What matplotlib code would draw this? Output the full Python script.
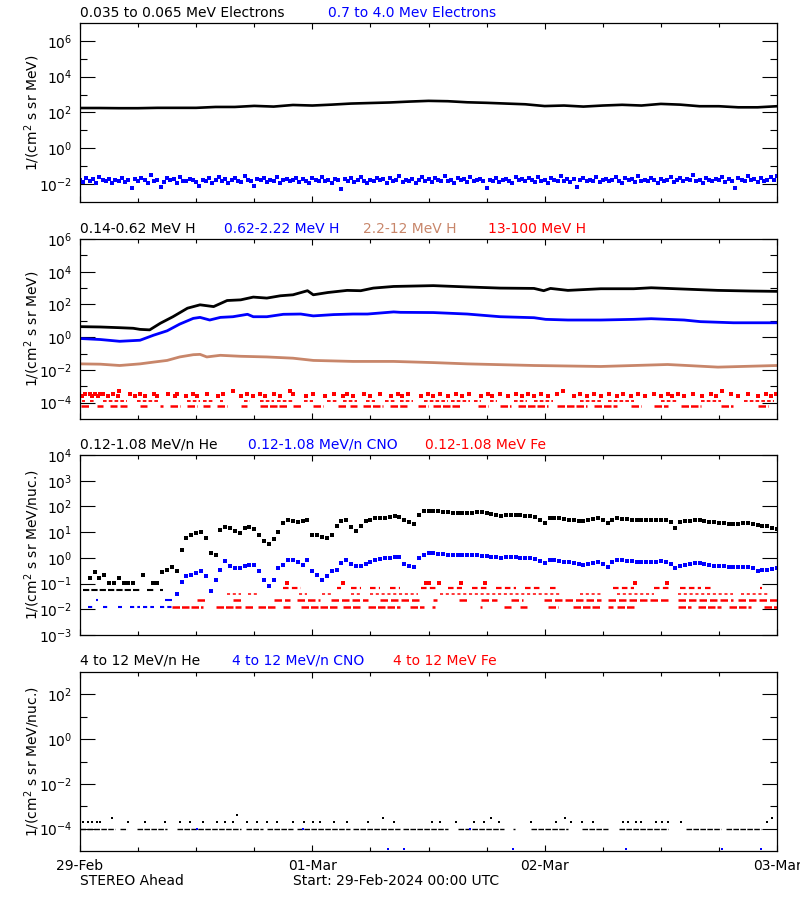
import numpy as np
import matplotlib
matplotlib.use("Agg")
import matplotlib.pyplot as plt
from matplotlib.ticker import FixedLocator, FixedFormatter, NullFormatter

plt.rcParams['font.family'] = ['DejaVu Sans']
plt.rcParams['mathtext.fontset'] = 'dejavusans'

BLACK = '#000000'
BLUE = '#0000ff'
RED = '#ff0000'
BROWN = '#c8866a'

# ---------------- x axis (hours since 29-Feb-2024 00:00 UTC) ----------------
day_hours = [0, 24, 48, 72]
day_labels = ['29-Feb', '01-Mar', '02-Mar', '03-Mar']
six_hour_ticks = [6, 12, 18, 30, 36, 42, 54, 60, 66]

# ---------------- panel 1 : electrons ----------------
elec_lo_hours = list(range(0, 73, 2))
elec_lo_flux = [178, 178, 174, 174, 182, 182, 182, 204, 204, 234, 214, 263, 245,
                275, 316, 339, 363, 407, 447, 427, 372, 347, 316, 288, 229, 245,
                214, 245, 269, 245, 302, 275, 224, 224, 195, 195, 224]
# 20-minute samples, in units of 1e-2
elec_hi_flux_e2 = [
    1.6, 1.3, 2.1, 1.5, 1.9, 1.2, 2.4, 1.7, 1.4, 2.0, 1.1, 1.8, 1.5, 2.2, 1.3, 1.6, 0.6, 1.9,
    1.4, 2.3, 1.7, 1.2, 3.4, 1.5, 1.8, 0.7, 1.3, 2.1, 1.6, 1.9, 1.2, 2.6, 1.5, 1.4, 2.0, 1.7,
    1.3, 0.8, 1.8, 1.5, 2.2, 1.2, 1.7, 2.5, 1.4, 1.9, 1.1, 1.6, 2.1, 1.5, 1.3, 2.8, 1.7, 1.4,
    0.8, 1.9, 1.6, 2.2, 1.3, 1.8, 1.5, 2.4, 1.2, 1.7, 2.0, 1.4, 1.6, 2.3, 1.3, 1.9, 1.5, 1.1,
    2.1, 1.7, 1.4, 2.6, 1.5, 1.8, 1.2, 2.0, 1.6, 0.5, 1.9, 1.4, 2.2, 1.3, 1.7, 2.5, 1.5, 1.2,
    1.8, 1.4, 2.3, 1.6, 1.9, 1.1, 2.1, 1.5, 1.7, 2.7, 1.3, 1.8, 1.5, 2.0, 1.2, 1.6, 2.4, 1.4,
    1.9, 1.3, 2.2, 1.7, 1.5, 2.9, 1.4, 1.8, 1.2, 2.1, 1.6, 1.9, 1.3, 2.5, 1.5, 1.7, 2.0, 1.4,
    0.6, 1.8, 1.5, 2.3, 1.3, 1.7, 2.0, 1.5, 1.2, 2.6, 1.6, 1.9, 1.4, 2.2, 1.7, 1.3, 2.4, 1.5,
    1.8, 1.2, 2.1, 1.6, 1.4, 2.8, 1.5, 1.9, 1.3, 2.0, 0.7, 1.7, 2.3, 1.4, 1.8, 1.5, 2.5, 1.3,
    1.7, 2.0, 1.4, 1.8, 2.4, 1.5, 1.2, 2.1, 1.6, 1.9, 1.3, 2.7, 1.5, 1.8, 1.4, 2.2, 1.6, 1.1,
    2.0, 1.5, 1.8, 2.6, 1.3, 1.7, 2.2, 1.4, 1.9, 1.6, 3.2, 1.5, 1.8, 1.2, 2.3, 1.7, 1.4, 2.0,
    1.6, 2.5, 1.3, 1.9, 1.5, 0.6, 2.1, 1.7, 1.4, 2.8, 1.6, 1.9, 1.3, 2.2, 1.5, 1.8, 2.4, 1.6,
    2.9]

# ---------------- panel 2 : protons ----------------
h_lo_hours = [0, 2.1, 4.1, 5.5, 6.2, 7.2, 8.3, 9.6, 11.1, 12.4, 13.8, 15.2, 16.6, 17.9,
              19.3, 20.7, 22, 23.5, 24.1, 25.6, 27.6, 29, 30.3, 32.4, 36.5, 40, 43.4,
              46.9, 47.9, 48.6, 50.4, 53.8, 57.2, 59, 62.4, 65.9, 69.3, 72]
h_lo_flux = [4.4, 4.2, 3.8, 3.5, 3.0, 2.8, 7.1, 17.8, 59, 95, 74, 174, 191, 282,
             245, 339, 389, 692, 389, 537, 724, 692, 1000, 1259, 1413, 1175, 1000,
             955, 692, 955, 724, 912, 912, 1047, 871, 724, 661, 631]
h_mid_hours = [0, 2.1, 4.1, 6.2, 7.6, 9, 10.3, 11.7, 12.4, 13.4, 14.5, 15.8, 17.3, 17.9,
               19.3, 21, 22.8, 24.1, 26.2, 28.2, 29.7, 32.4, 33.1, 36.5, 40, 43.4, 46.9,
               48.1, 50.4, 53.8, 57.2, 59, 62.4, 64.1, 67.5, 72]
h_mid_flux = [0.83, 0.72, 0.56, 0.65, 1.32, 2.45, 6.3, 14.1, 16.2, 11.2, 16.2, 17.8, 25,
              17.8, 17.8, 25, 26, 20, 24, 26, 26, 35, 33, 32, 26, 17.8, 15.5, 12.3, 11.2,
              11.2, 12.3, 13.5, 11.2, 8.9, 7.6, 7.6]
h_hi_hours = [0, 2.1, 4.1, 6.2, 7.6, 9, 10.3, 11.7, 12.4, 13.1, 14.5, 16.6, 19.3, 22,
              24.1, 28.2, 32.4, 36.5, 40, 46.9, 53.8, 60.7, 62.4, 65.9, 72]
h_hi_flux = [0.0234, 0.0224, 0.0186, 0.0234, 0.030, 0.038, 0.062, 0.085, 0.089, 0.062,
             0.078, 0.068, 0.062, 0.052, 0.038, 0.033, 0.033, 0.028, 0.0234, 0.0186,
             0.0162, 0.0214, 0.019, 0.0148, 0.0186]
# 13-100 MeV H : quantised count levels
hvh_levels = [6.5e-5, 1.2e-4, 2.5e-4, 3.5e-4, 5e-4]
hvh_runs_l1 = [(0.1, 1.0), (1.8, 2.4), (3.1, 3.8), (4.1, 4.9), (6.2, 6.9), (8.3, 8.6),
               (9.3, 10.3), (11.1, 12.1), (12.7, 13.4), (14.2, 15.2), (16.6, 17.3),
               (18.6, 21.4), (22, 22.8), (24.1, 25.1), (26.6, 27.6), (27.9, 28.6),
               (29.2, 31.3), (32, 33.1), (33.1, 33.8), (34.9, 35.9), (36.5, 39.3),
               (41.1, 42.1), (43.4, 44.5), (45.2, 48.3), (49.3, 52.4), (53.1, 55.5),
               (56.9, 57.9), (59.3, 60.7), (62.1, 64.1), (66.2, 67.5), (70, 71.1)]
hvh_runs_l2 = [(0.2, 0.5), (1, 1.4), (2.4, 4.9), (5.9, 8.3), (11.1, 12.4), (12.7, 13.8),
               (14.5, 14.8), (16.9, 17.6), (18.6, 20), (20.4, 22), (23.1, 24.1),
               (25.5, 26.6), (27.2, 28.6), (29.5, 30.5), (31.5, 32.5), (33.1, 34.4),
               (35.5, 38), (38.3, 40.3), (40.7, 41.4), (42.4, 43.1), (44.8, 46.2),
               (46.9, 48.9), (51.7, 53.8), (54.5, 57.2), (60, 61.8), (64.1, 66.2),
               (68.6, 71.7)]
hvh_dots_l3 = [0.2, 1.2, 1.9, 2.9, 3.9, 5.7, 6.7, 8, 9.8, 10.9, 12.1, 14.3, 16.6, 17.9,
               19.1, 20.7, 23.3, 25.3, 27.2, 28.2, 30, 32.1, 33.3, 35.2, 36.5, 38, 39.5,
               41.4, 42.6, 44.2, 45.7, 46.9, 48.3, 51, 52.4, 53.8, 55.5, 56.9, 58.4, 60,
               61.2, 62.4, 64.3, 65.7, 68, 70, 71.4]
hvh_dots_l4 = [0.5, 1, 1.6, 2.1, 2.4, 3.4, 5.2, 6.2, 7.6, 9.1, 10, 11.7, 13.1, 14.8, 17.3,
               18.6, 20, 22, 24.1, 26.2, 27.6, 29.3, 31, 32.9, 33.9, 35.9, 37.2, 38.8,
               40.2, 42.1, 43.4, 45, 46.3, 47.6, 49.3, 51.7, 53.1, 54.6, 56.1, 57.6, 59.3,
               60.7, 61.8, 63.3, 65.2, 67.2, 69, 70.9, 71.9]
hvh_dots_l5 = [4, 15.8, 21.7, 49.9, 66.3]

# ---------------- panel 3 : 0.12-1.08 MeV/n heavy ions (30-minute samples) ----------------
he_flux = [
    np.nan, np.nan, 0.17, 0.27, 0.17, 0.22, 0.11, 0.11, 0.17, 0.11, 0.11, 0.11, np.nan, 0.22,
    np.nan, 0.11, 0.11, 0.27, 0.35, 0.45, 0.3, 2.0, 6, 8, 9, 10, 6, 1.6, 1.3, 12, 16, 14, 11,
    9.4, 14, 16, 13, 8, 4.5, 3.6, 5.2, 10, 22, 31, 27, 25, 28, 31, 8, 7.5, 6.5, 6, 8, 18, 27,
    31, 16, 11, 18, 26, 30, 35, 36, 37, 38, 42, 38, 30, 24, 20, 45, 65, 68, 69, 65, 62, 60,
    58, 57, 56, 56, 58, 60, 60, 55, 50, 45, 44, 46, 48, 48, 46, 44, 42, 40, 30, 23, 34, 36,
    34, 32, 31, 29, 28, 27, 30, 33, 36, 30, 22, 30, 36, 33, 32, 31, 30, 31, 30, 30, 31, 31,
    30, 25, 14.7, 24, 27, 28, 29, 30, 28, 25, 24, 23, 22, 21, 20, 21, 22, 23, 21, 19, 18, 17,
    15, 13.5]
he_base_level = 0.055
he_base_runs = [(0.3, 5.4), (5.5, 6.2), (6.9, 7.6), (8.3, 8.6)]
cno_flux = [
    np.nan, np.nan, np.nan, np.nan, np.nan, np.nan, np.nan, np.nan, np.nan, np.nan, np.nan,
    np.nan, np.nan, np.nan, np.nan, np.nan, np.nan, np.nan, np.nan, np.nan, 0.04, 0.12, 0.2,
    0.22, 0.26, 0.30, 0.19, 0.05, 0.14, 0.35, 0.74, 0.5, 0.41, 0.41, 0.5, 0.55, 0.55, 0.3,
    0.14, 0.078, 0.14, 0.4, 0.55, 0.86, 0.86, 0.7, 0.55, 0.86, 0.3, 0.22, 0.14, 0.19, 0.3,
    0.35, 0.64, 0.86, 0.6, 0.5, 0.48, 0.6, 0.7, 0.86, 0.9, 0.95, 1.0, 1.1, 1.1, 0.6, 0.5,
    0.45, 1.0, 1.35, 1.5, 1.56, 1.45, 1.4, 1.35, 1.35, 1.3, 1.35, 1.35, 1.3, 1.25, 1.2, 1.15,
    1.1, 1.05, 1.0, 1.05, 1.1, 1.1, 1.0, 0.95, 0.95, 0.9, 0.75, 0.64, 0.8, 0.8, 0.75, 0.7,
    0.7, 0.62, 0.58, 0.55, 0.6, 0.65, 0.7, 0.6, 0.45, 0.7, 0.86, 0.8, 0.74, 0.74, 0.72, 0.7,
    0.7, 0.7, 0.72, 0.74, 0.7, 0.6, 0.41, 0.5, 0.55, 0.58, 0.62, 0.64, 0.6, 0.55, 0.5, 0.5,
    0.48, 0.46, 0.45, 0.45, 0.46, 0.45, 0.4, 0.30, 0.33, 0.35, 0.38, 0.41]
cno_base_levels = [0.012, 0.024]
cno_base_runs_a = [(0.8, 1.6), (2.4, 3.1), (3.9, 4.3), (5.2, 6.2), (6.5, 7.6), (8.3, 9.6)]
cno_base_runs_b = [(1.7, 1.9), (8.8, 9.5)]
fe_levels = [0.012, 0.024, 0.04, 0.065, 0.11]
fe_runs_a = [(9.5, 12.7), (14, 16.6), (17, 17.9), (18.4, 20.4), (21, 21.7), (22.8, 26.6),
             (27.2, 29), (29.7, 33.1), (34.1, 35.5), (36.4, 36.7), (41.3, 41.5), (43.8, 44.5),
             (45.5, 46.2), (48.3, 49.4), (50.9, 53.8), (54.5, 55.1), (55.5, 57.2),
             (61.8, 63.1), (63.8, 66.2), (67, 69.3), (70.7, 72)]
fe_runs_b = [(12.1, 13.1), (15.8, 16.6), (20, 21.7), (22.4, 24.8), (25.9, 29.7), (31, 35.2),
             (36.5, 36.9), (39.1, 40), (41.4, 43.1), (44.5, 45.8), (47.9, 53.8), (54.5, 60.7),
             (61.8, 67.5), (68, 72)]
fe_runs_c = [(15.2, 16.6), (17.4, 18.5), (22.6, 23.5), (25, 26), (28, 29), (30, 34.9),
             (37.2, 49.7), (51.7, 53.8), (55.5, 59.3), (61.8, 67.5), (68.3, 71.1)]
fe_runs_d = [(21, 22.8), (26.5, 27), (28, 29), (30, 31), (32, 33.1), (35.2, 37), (38, 39.5),
             (40.5, 42), (43, 45), (46, 47.5), (48.5, 49.3), (55.1, 57.2), (59.3, 61),
             (62, 64.1), (64.6, 65.3), (70.2, 70.4)]
fe_dots_e = [21.4, 27.2, 35.7, 36.1, 37.1, 39.4, 41.8, 57.3, 60.6]

# ---------------- panel 4 : 4-12 MeV/n heavy ions ----------------
he4_base_level = 1e-4
he4_base_runs = [(0, 3.6), (4.1, 4.9), (5.9, 9), (10, 16.6), (17.1, 18.9), (19.3, 22),
                 (22.4, 27.9), (28.2, 33.1), (33.4, 38), (39, 43.8), (44.7, 44.9),
                 (46.6, 50.4), (51.9, 54.5), (55.7, 60.7), (62.6, 66.2), (66.7, 70.3)]
he4_dot_hours_2e4 = [0.3, 0.8, 1.2, 1.8, 2.1, 5, 6.7, 8.8, 10.3, 11.4, 12.7, 14.2, 15, 15.8,
                     17.3, 18.3, 19.3, 20.4, 22, 23.1, 24.1, 24.8, 26.2, 27.6, 29.7, 32.4,
                     36.4, 37.2, 38.8, 40.7, 41.7, 43.3, 46.6, 49.2, 50.7, 51.9, 53, 56.1,
                     56.6, 57.4, 58, 59.5, 60.1, 60.7, 62.1, 71]
he4_dot_hours_3e4 = [3.3, 31.3, 42.5, 50.1, 71.5]
he4_dot_hours_4e4 = [16.2]
cno4_hours = [12.1, 23, 40.3, 31.8, 33.5, 44.7, 56.4, 66.3, 70.3]
cno4_flux = [1e-4, 1e-4, 1e-4, 1.2e-5, 1.2e-5, 1.2e-5, 1.2e-5, 1.2e-5, 1.2e-5]

# ---------------- layout ----------------
W, H = 800, 900
fig = plt.figure(figsize=(8, 9), dpi=100)

def fx(x):
    return x / W

def fy(y):
    return 1 - y / H

def make_axes(top, bottom):
    return fig.add_axes([fx(80), fy(bottom), (777 - 80) / W, (bottom - top) / H])

def style(ax, ylim, majors, minors, xlabels=False):
    ax.set_xlim(0, 72)
    ax.set_yscale('log')
    ax.set_ylim(*ylim)
    ax.yaxis.set_major_locator(FixedLocator(majors))
    ax.yaxis.set_major_formatter(FixedFormatter(
        [r'$10^{%d}$' % int(round(np.log10(m))) for m in majors]))
    ax.yaxis.set_minor_locator(FixedLocator(minors))
    ax.yaxis.set_minor_formatter(NullFormatter())
    ax.xaxis.set_major_locator(FixedLocator(day_hours))
    ax.xaxis.set_minor_locator(FixedLocator(six_hour_ticks))
    if xlabels:
        ax.xaxis.set_major_formatter(FixedFormatter(day_labels))
    else:
        ax.xaxis.set_major_formatter(NullFormatter())
    ax.tick_params(which='both', direction='in', top=True, right=True, width=0.8,
                   labelsize=10, colors='black')
    ax.tick_params(axis='y', which='major', length=10.5, pad=5.5)
    ax.tick_params(axis='y', which='minor', length=5.2)
    ax.tick_params(axis='x', which='major', length=4.5, pad=6)
    ax.tick_params(axis='x', which='minor', length=3.0)
    for s in ax.spines.values():
        s.set_linewidth(0.9)
        s.set_color('black')

def runs(ax, rr, y, color, lw, ls='-'):
    ax.hlines([y] * len(rr), [r[0] for r in rr], [r[1] for r in rr], colors=color,
              linewidth=lw, linestyles=ls)

def dots(ax, x, y, color, ms=2.0):
    ax.plot(x, y, 's', color=color, ms=ms, mew=0, linestyle='none')

# Panel 1
ax1 = make_axes(23, 202)
style(ax1, (1e-3, 1e7), [1e-2, 1, 1e2, 1e4, 1e6], [1e-1, 1e1, 1e3, 1e5])
ax1.plot(elec_lo_hours, elec_lo_flux, color=BLACK, lw=1.9)
t_e = np.arange(len(elec_hi_flux_e2)) / 3.0
dots(ax1, t_e, np.array(elec_hi_flux_e2) * 1e-2, BLUE, ms=2.6)

# Panel 2
ax2 = make_axes(239, 419)
style(ax2, (1e-5, 1e6), [1e-4, 1e-2, 1, 1e2, 1e4, 1e6], [1e-3, 1e-1, 1e1, 1e3, 1e5])
ax2.plot(h_lo_hours, h_lo_flux, color=BLACK, lw=2.0)
ax2.plot(h_mid_hours, h_mid_flux, color=BLUE, lw=2.0)
ax2.plot(h_hi_hours, h_hi_flux, color=BROWN, lw=2.0)
runs(ax2, hvh_runs_l1, hvh_levels[0], RED, 1.8, (0, (3, 0.8)))
runs(ax2, hvh_runs_l2, hvh_levels[1], RED, 1.3, (0, (2, 1.2)))
dots(ax2, hvh_dots_l3, [hvh_levels[2]] * len(hvh_dots_l3), RED, ms=2.5)
dots(ax2, hvh_dots_l4, [hvh_levels[3]] * len(hvh_dots_l4), RED, ms=2.5)
dots(ax2, hvh_dots_l5, [hvh_levels[4]] * len(hvh_dots_l5), RED, ms=2.5)

# Panel 3
ax3 = make_axes(455, 635)
style(ax3, (1e-3, 1e4), [1e-3, 1e-2, 1e-1, 1, 1e1, 1e2, 1e3, 1e4], [])
t3 = np.arange(len(he_flux)) / 2.0
runs(ax3, fe_runs_a, fe_levels[0], RED, 1.8, (0, (3, 0.8)))
runs(ax3, fe_runs_b, fe_levels[1], RED, 1.8, (0, (3, 1.2)))
runs(ax3, fe_runs_c, fe_levels[2], RED, 1.1, (0, (2, 1.8)))
runs(ax3, fe_runs_d, fe_levels[3], RED, 1.6, (0, (2.5, 1.5)))
dots(ax3, fe_dots_e, [fe_levels[4]] * len(fe_dots_e), RED, ms=2.4)
runs(ax3, cno_base_runs_a, cno_base_levels[0], BLUE, 1.5, (0, (2, 1.5)))
runs(ax3, cno_base_runs_b, cno_base_levels[1], BLUE, 1.5)
runs(ax3, he_base_runs, he_base_level, BLACK, 1.5, (0, (3, 1)))
dots(ax3, t3, cno_flux, BLUE, ms=2.4)
dots(ax3, t3, he_flux, BLACK, ms=2.4)

# Panel 4
ax4 = make_axes(672, 851)
style(ax4, (1e-5, 1e3), [1e-4, 1e-2, 1, 1e2], [1e-3, 1e-1, 1e1], xlabels=True)
runs(ax4, he4_base_runs, he4_base_level, BLACK, 1.0, (0, (4, 1)))
dots(ax4, he4_dot_hours_2e4, [2e-4] * len(he4_dot_hours_2e4), BLACK)
dots(ax4, he4_dot_hours_3e4, [3e-4] * len(he4_dot_hours_3e4), BLACK)
dots(ax4, he4_dot_hours_4e4, [4.2e-4] * len(he4_dot_hours_4e4), BLACK)
dots(ax4, cno4_hours, cno4_flux, BLUE)

# ---------------- texts ----------------
def label(x, y, s, color='black'):
    fig.text(fx(x), fy(y), s, color=color, ha='left', va='center', fontsize=10)

label(80, 13, '0.035 to 0.065 MeV Electrons')
label(328, 13, '0.7 to 4.0 Mev Electrons', BLUE)
label(80, 229, '0.14-0.62 MeV H')
label(224, 229, '0.62-2.22 MeV H', BLUE)
label(363, 229, '2.2-12 MeV H', BROWN)
label(488, 229, '13-100 MeV H', RED)
label(80, 445, '0.12-1.08 MeV/n He')
label(248, 445, '0.12-1.08 MeV/n CNO', BLUE)
label(425, 445, '0.12-1.08 MeV Fe', RED)
label(80, 661, '4 to 12 MeV/n He')
label(232, 661, '4 to 12 MeV/n CNO', BLUE)
label(393, 661, '4 to 12 MeV Fe', RED)
label(80, 881, 'STEREO Ahead')
label(293, 881, 'Start: 29-Feb-2024 00:00 UTC')

for (top, bottom, txt) in [(23, 202, r'1/(cm$^2$ s sr MeV)'),
                           (239, 419, r'1/(cm$^2$ s sr MeV)'),
                           (455, 635, r'1/(cm$^2$ s sr MeV/nuc.)'),
                           (672, 851, r'1/(cm$^2$ s sr MeV/nuc.)')]:
    fig.text(fx(32), fy((top + bottom) / 2), txt, rotation=90, ha='center',
             va='center', fontsize=10)

fig.savefig('out.png', dpi=100)
